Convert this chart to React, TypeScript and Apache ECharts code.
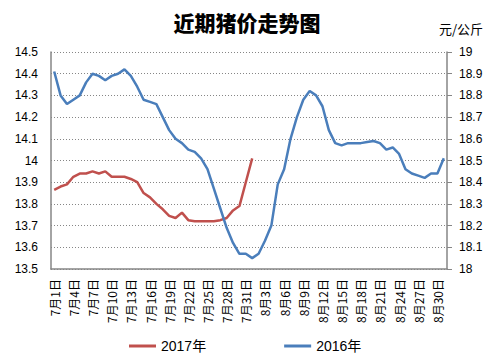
import React, { useEffect, useRef } from "react";
import * as echarts from "echarts";

const monthDays: [number, number][] = [[7, 31], [8, 31]];
const categories: string[] = [];
monthDays.forEach(([m, n]) => {
  for (let d = 1; d <= n; d++) categories.push(`${m}月${d}日`);
});

const series2017 = [
  13.865, 13.88, 13.89, 13.925, 13.94, 13.94, 13.95, 13.94, 13.95, 13.925,
  13.925, 13.925, 13.915, 13.9, 13.85, 13.83, 13.8, 13.775, 13.745, 13.735,
  13.76, 13.725, 13.72, 13.72, 13.72, 13.72, 13.725, 13.735, 13.77, 13.79,
  13.9, 14.01,
];

const series2016 = [
  18.91, 18.8, 18.76, 18.78, 18.8, 18.86, 18.9, 18.89, 18.87, 18.89,
  18.9, 18.92, 18.89, 18.84, 18.78, 18.77, 18.76, 18.7, 18.64, 18.6,
  18.58, 18.55, 18.54, 18.51, 18.46, 18.37, 18.28, 18.19, 18.12, 18.07,
  18.07, 18.05, 18.07, 18.13, 18.2, 18.39, 18.46, 18.6, 18.7, 18.78,
  18.82, 18.8, 18.75, 18.64, 18.58, 18.57, 18.58, 18.58, 18.58, 18.585,
  18.59, 18.58, 18.55, 18.56, 18.53, 18.46, 18.44, 18.43, 18.42, 18.44,
  18.44, 18.51,
];

const title = "近期猪价走势图";
const unit = "元/公斤";
const seriesNames = ["2017年", "2016年"];

const fmt = (v: number) => String(parseFloat(v.toFixed(1)));

export default function App() {
  const ref = useRef<HTMLDivElement>(null);
  useEffect(() => {
    if (!ref.current) return;
    const chart = echarts.init(ref.current, null, { renderer: "svg" });
    const labelFont = { fontFamily: "Liberation Sans, Arial, sans-serif", fontSize: 12, color: "#000" };
    chart.setOption({
      animation: false,
      backgroundColor: "#fff",
      title: {
        text: title,
        left: "center",
        top: 6,
        textStyle: {
          fontFamily: "Noto Sans CJK SC",
          fontSize: 21,
          fontWeight: 900,
          color: "#000",
        },
      },
      graphic: [
        {
          type: "text",
          left: 439,
          top: 22,
          style: { text: unit, font: "13px 'Noto Sans CJK SC'", fill: "#000" },
        },
      ],
      legend: {
        left: 124,
        top: 334,
        itemGap: 78,
        itemWidth: 27,
        itemHeight: 3,
        icon: "rect",
        data: seriesNames,
        textStyle: { fontFamily: "Liberation Sans, 'Noto Sans CJK SC'", fontSize: 14, color: "#000" },
      },
      grid: { left: 51, right: 47, top: 52, bottom: 94, containLabel: false },
      xAxis: {
        type: "category",
        data: categories,
        boundaryGap: true,
        axisLine: { lineStyle: { color: "#868686", width: 1.5 } },
        axisTick: { show: false },
        axisLabel: {
          interval: 2,
          rotate: 90,
          margin: 10,
          fontFamily: "'Noto Sans CJK SC'",
          fontSize: 12,
          color: "#000",
        },
      },
      yAxis: [
        {
          type: "value",
          min: 13.5,
          max: 14.5,
          interval: 0.1,
          axisLine: { show: true, lineStyle: { color: "#868686", width: 1.5 } },
          axisTick: { show: false },
          splitLine: { lineStyle: { color: "#868686", type: [1, 2], width: 1 } },
          axisLabel: { ...labelFont, margin: 13, formatter: fmt },
        },
        {
          type: "value",
          min: 18,
          max: 19,
          interval: 0.1,
          position: "right",
          axisLine: { show: true, lineStyle: { color: "#868686", width: 1.5 } },
          axisTick: { show: true, length: 5, inside: false, lineStyle: { color: "#868686" } },
          splitLine: { show: false },
          axisLabel: { ...labelFont, margin: 12, formatter: fmt },
        },
      ],
      series: [
        {
          name: seriesNames[0],
          type: "line",
          yAxisIndex: 0,
          data: series2017,
          showSymbol: false,
          symbol: "none",
          lineStyle: { color: "#C0504D", width: 2.5 },
          itemStyle: { color: "#C0504D" },
        },
        {
          name: seriesNames[1],
          type: "line",
          yAxisIndex: 1,
          data: series2016,
          showSymbol: false,
          symbol: "none",
          lineStyle: { color: "#4A7EBB", width: 2.5 },
          itemStyle: { color: "#4A7EBB" },
        },
      ],
    });
    return () => chart.dispose();
  }, []);
  return <div ref={ref} style={{ width: 494, height: 363, position: "absolute", left: 0, top: 0 }} />;
}
